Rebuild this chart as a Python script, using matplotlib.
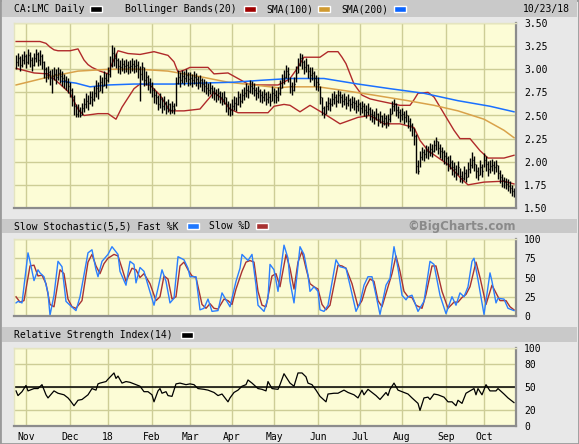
import numpy as np
import pandas as pd
import matplotlib
matplotlib.use("Agg")
import matplotlib.pyplot as plt
from matplotlib.patches import Rectangle

plt.rcParams['font.family'] = ['DejaVu Sans Mono']
plt.rcParams['font.size'] = 7

# TSX trading days shown on the chart
holidays = ['2017-12-25', '2017-12-26', '2018-01-01', '2018-02-19', '2018-03-30',
            '2018-05-21', '2018-07-02', '2018-08-06', '2018-09-03', '2018-10-08']
dates = pd.bdate_range('2017-10-25', '2018-10-23', freq='C', holidays=holidays)

# daily bars (Oct .. Oct), one row per month
closes = (
    [3.08, 3.12, 3.05, 3.10, 3.14] +
    [3.08, 3.15, 3.10, 3.05, 3.12, 3.16, 3.10, 3.14, 3.08, 3.00, 2.94, 2.97, 2.90, 2.93, 2.95, 2.92, 2.96, 2.93, 2.90, 2.88, 2.86, 2.82] +
    [2.78, 2.70, 2.60, 2.52, 2.55, 2.50, 2.58, 2.62, 2.66, 2.63, 2.70, 2.68, 2.74, 2.80, 2.76, 2.86, 2.82, 2.90, 2.88] +
    [2.95, 3.05, 3.18, 3.12, 3.10, 3.04, 3.02, 3.06, 3.03, 3.05, 3.02, 3.04, 3.06, 3.03, 3.05, 3.00, 2.95, 3.02, 2.88, 2.92, 2.86, 2.82] +
    [2.78, 2.72, 2.70, 2.62, 2.68, 2.60, 2.64, 2.58, 2.62, 2.56, 2.60, 2.57, 2.85, 2.92, 2.88, 2.93, 2.90, 2.94, 2.89] +
    [2.90, 2.88, 2.92, 2.89, 2.86, 2.88, 2.84, 2.82, 2.80, 2.78, 2.80, 2.76, 2.74, 2.72, 2.74, 2.70, 2.68, 2.70, 2.62, 2.58, 2.56] +
    [2.60, 2.64, 2.62, 2.70, 2.66, 2.72, 2.74, 2.78, 2.76, 2.82, 2.80, 2.78, 2.74, 2.76, 2.72, 2.70, 2.73, 2.68, 2.70, 2.66, 2.74] +
    [2.72, 2.70, 2.74, 2.80, 2.88, 2.92, 2.98, 2.95, 2.82, 2.78, 2.84, 2.96, 3.05, 3.12, 3.08, 3.02, 3.05, 2.98, 2.94, 2.96, 2.90, 2.86] +
    [2.84, 2.70, 2.58, 2.52, 2.60, 2.64, 2.62, 2.68, 2.70, 2.66, 2.72, 2.70, 2.66, 2.68, 2.64, 2.67, 2.62, 2.65, 2.63, 2.60, 2.62] +
    [2.58, 2.60, 2.56, 2.54, 2.57, 2.52, 2.50, 2.48, 2.52, 2.46, 2.49, 2.44, 2.47, 2.43, 2.46, 2.52, 2.60, 2.62, 2.56, 2.54, 2.50] +
    [2.52, 2.48, 2.50, 2.44, 2.40, 2.36, 2.28, 1.95, 1.90, 2.05, 2.10, 2.08, 2.12, 2.10, 2.14, 2.12, 2.18, 2.22, 2.15, 2.12, 2.10, 2.06] +
    [2.04, 1.98, 2.00, 1.94, 1.92, 1.88, 1.94, 1.85, 1.82, 1.88, 1.84, 1.92, 1.96, 2.02, 1.98, 1.90, 1.86, 1.94, 1.90] +
    [2.02, 1.98, 1.92, 1.95, 1.97, 1.94, 1.96, 1.88, 1.84, 1.80, 1.78, 1.76, 1.74, 1.72, 1.68, 1.66]
)
highs = (
    [3.15, 3.18, 3.14, 3.17, 3.20] +
    [3.16, 3.22, 3.19, 3.13, 3.18, 3.22, 3.19, 3.21, 3.16, 3.09, 3.02, 3.03, 2.99, 3.00, 3.02, 3.00, 3.02, 3.00, 2.98, 2.95, 2.93, 2.90] +
    [2.86, 2.80, 2.72, 2.62, 2.62, 2.59, 2.64, 2.69, 2.74, 2.72, 2.76, 2.76, 2.82, 2.88, 2.86, 2.94, 2.92, 2.98, 2.96] +
    [3.02, 3.14, 3.26, 3.24, 3.18, 3.12, 3.10, 3.12, 3.10, 3.11, 3.09, 3.10, 3.12, 3.10, 3.11, 3.09, 3.04, 3.08, 3.02, 2.98, 2.94, 2.90] +
    [2.86, 2.80, 2.77, 2.72, 2.74, 2.70, 2.71, 2.66, 2.68, 2.64, 2.66, 2.64, 2.92, 2.99, 2.97, 2.99, 2.98, 3.00, 2.97] +
    [2.97, 2.95, 2.98, 2.96, 2.93, 2.94, 2.91, 2.89, 2.87, 2.85, 2.86, 2.83, 2.81, 2.79, 2.80, 2.77, 2.75, 2.76, 2.70, 2.66, 2.64] +
    [2.68, 2.71, 2.70, 2.77, 2.74, 2.79, 2.81, 2.85, 2.83, 2.88, 2.87, 2.85, 2.81, 2.82, 2.79, 2.77, 2.79, 2.75, 2.77, 2.74, 2.82] +
    [2.80, 2.78, 2.81, 2.88, 2.95, 2.99, 3.05, 3.02, 2.92, 2.86, 2.92, 3.04, 3.12, 3.18, 3.16, 3.10, 3.12, 3.06, 3.02, 3.02, 2.98, 2.94] +
    [2.92, 2.82, 2.70, 2.60, 2.66, 2.70, 2.69, 2.74, 2.76, 2.73, 2.78, 2.77, 2.73, 2.74, 2.71, 2.73, 2.69, 2.71, 2.70, 2.67, 2.68] +
    [2.65, 2.66, 2.63, 2.61, 2.63, 2.59, 2.57, 2.55, 2.58, 2.53, 2.55, 2.51, 2.53, 2.50, 2.52, 2.58, 2.66, 2.68, 2.64, 2.60, 2.57] +
    [2.58, 2.55, 2.56, 2.51, 2.47, 2.42, 2.36, 2.30, 2.02, 2.12, 2.16, 2.14, 2.18, 2.17, 2.20, 2.19, 2.24, 2.27, 2.22, 2.19, 2.16, 2.13] +
    [2.11, 2.06, 2.07, 2.02, 2.00, 1.96, 2.01, 1.93, 1.90, 1.95, 1.92, 2.00, 2.04, 2.10, 2.06, 1.98, 1.94, 2.02, 1.98] +
    [2.09, 2.06, 2.01, 2.02, 2.03, 2.01, 2.02, 1.96, 1.91, 1.87, 1.84, 1.82, 1.81, 1.79, 1.75, 1.72]
)
lows = (
    [3.00, 3.03, 2.98, 3.02, 3.06] +
    [3.01, 3.06, 3.02, 2.98, 3.03, 3.08, 3.03, 3.05, 3.00, 2.91, 2.86, 2.89, 2.83, 2.74, 2.88, 2.84, 2.88, 2.85, 2.82, 2.80, 2.78, 2.74] +
    [2.70, 2.60, 2.50, 2.48, 2.48, 2.48, 2.50, 2.54, 2.58, 2.56, 2.62, 2.60, 2.66, 2.70, 2.68, 2.76, 2.74, 2.82, 2.80] +
    [2.86, 2.92, 3.02, 3.03, 3.01, 2.96, 2.95, 2.98, 2.96, 2.97, 2.95, 2.96, 2.98, 2.96, 2.97, 2.90, 2.66, 2.88, 2.82, 2.83, 2.78, 2.74] +
    [2.70, 2.64, 2.62, 2.56, 2.58, 2.53, 2.56, 2.52, 2.54, 2.52, 2.53, 2.52, 2.60, 2.84, 2.81, 2.85, 2.83, 2.86, 2.82] +
    [2.83, 2.81, 2.84, 2.82, 2.79, 2.81, 2.77, 2.75, 2.73, 2.71, 2.73, 2.69, 2.67, 2.65, 2.67, 2.63, 2.61, 2.62, 2.54, 2.50, 2.49] +
    [2.51, 2.56, 2.55, 2.61, 2.59, 2.64, 2.67, 2.70, 2.69, 2.74, 2.73, 2.71, 2.67, 2.69, 2.65, 2.63, 2.66, 2.61, 2.63, 2.60, 2.66] +
    [2.64, 2.63, 2.66, 2.72, 2.80, 2.84, 2.90, 2.86, 2.74, 2.72, 2.76, 2.86, 2.96, 3.03, 3.00, 2.95, 2.97, 2.90, 2.86, 2.88, 2.82, 2.78] +
    [2.76, 2.62, 2.50, 2.47, 2.52, 2.56, 2.55, 2.60, 2.62, 2.59, 2.64, 2.63, 2.59, 2.61, 2.57, 2.60, 2.55, 2.58, 2.56, 2.53, 2.55] +
    [2.51, 2.53, 2.49, 2.47, 2.50, 2.45, 2.43, 2.41, 2.45, 2.39, 2.42, 2.38, 2.40, 2.37, 2.39, 2.43, 2.52, 2.55, 2.49, 2.47, 2.43] +
    [2.45, 2.41, 2.43, 2.37, 2.33, 2.28, 2.18, 1.88, 1.87, 1.94, 2.02, 2.01, 2.04, 2.03, 2.06, 2.05, 2.10, 2.13, 2.08, 2.04, 2.02, 1.98] +
    [1.96, 1.90, 1.92, 1.86, 1.84, 1.80, 1.86, 1.78, 1.77, 1.80, 1.78, 1.84, 1.88, 1.93, 1.90, 1.82, 1.80, 1.86, 1.83] +
    [1.94, 1.90, 1.85, 1.88, 1.90, 1.87, 1.89, 1.81, 1.77, 1.73, 1.72, 1.70, 1.68, 1.66, 1.63, 1.62]
)

# indicator lines: (trading day number, value)
bb_upper = [(0, 3.30), (12, 3.30), (15, 3.28), (17, 3.24), (19, 3.21), (21, 3.20), (27, 3.20), (31, 3.22),
            (32, 3.18), (34, 3.10), (36, 3.05), (38, 3.02), (42, 2.98), (46, 2.95), (48, 3.06), (51, 3.20),
            (56, 3.17), (62, 3.16), (69, 3.19), (76, 3.15), (79, 3.08), (81, 2.97), (84, 2.99), (87, 3.02),
            (96, 3.02), (99, 2.95), (106, 2.96), (111, 2.90), (116, 2.84), (122, 2.83), (131, 2.83),
            (134, 2.86), (137, 2.90), (140, 2.99), (144, 3.13), (152, 3.13), (156, 3.19), (161, 3.19),
            (163, 3.13), (165, 3.06), (169, 2.84), (173, 2.72), (177, 2.68), (181, 2.66), (192, 2.61),
            (197, 2.61), (199, 2.67), (201, 2.74), (206, 2.75), (209, 2.70), (214, 2.52), (219, 2.34),
            (222, 2.25), (227, 2.25), (232, 2.12), (236, 2.04), (244, 2.04), (249, 2.07)]
bb_lower = [(0, 3.01), (9, 2.96), (16, 2.95), (22, 2.84), (27, 2.74), (31, 2.57), (34, 2.50), (41, 2.52),
            (46, 2.52), (50, 2.46), (53, 2.59), (59, 2.79), (62, 2.84), (67, 2.83), (72, 2.72), (77, 2.55),
            (84, 2.55), (92, 2.57), (99, 2.75), (102, 2.70), (107, 2.57), (111, 2.53), (126, 2.53),
            (129, 2.60), (134, 2.62), (137, 2.61), (142, 2.54), (147, 2.61), (154, 2.52), (162, 2.41),
            (171, 2.48), (177, 2.50), (184, 2.41), (192, 2.41), (199, 2.37), (202, 2.23), (206, 2.12),
            (216, 1.97), (222, 1.83), (226, 1.75), (234, 1.78), (244, 1.79), (249, 1.76)]
sma100 = [(0, 2.83), (17, 2.92), (31, 2.98), (47, 3.00), (62, 3.00), (76, 2.98), (92, 2.92), (106, 2.86),
          (119, 2.83), (131, 2.80), (137, 2.81), (151, 2.81), (164, 2.77), (179, 2.72), (196, 2.66),
          (209, 2.61), (221, 2.55), (234, 2.46), (244, 2.34), (249, 2.26)]
sma200 = [(23, 2.87), (30, 2.85), (37, 2.81), (46, 2.83), (59, 2.84), (79, 2.84), (92, 2.85), (109, 2.86),
          (122, 2.88), (137, 2.90), (154, 2.90), (171, 2.84), (187, 2.79), (204, 2.74), (221, 2.66),
          (237, 2.60), (249, 2.54)]

stoch_k = [(0, 17), (1, 19), (3, 17), (6, 82), (7, 71), (9, 46), (11, 60), (12, 56), (14, 51), (16, 30),
           (17, 1), (19, 27), (21, 71), (23, 64), (25, 19), (27, 14), (30, 7), (32, 25), (36, 82), (38, 86),
           (40, 60), (41, 51), (43, 71), (46, 80), (48, 90), (51, 80), (52, 58), (55, 40), (57, 71), (59, 67),
           (60, 43), (62, 63), (64, 58), (66, 40), (69, 14), (71, 36), (73, 60), (75, 45), (77, 17), (79, 23),
           (81, 77), (84, 73), (86, 62), (87, 51), (90, 51), (92, 8), (94, 10), (96, 22), (98, 6), (101, 7),
           (103, 30), (105, 21), (107, 12), (110, 45), (112, 62), (113, 80), (116, 72), (118, 80), (120, 40),
           (121, 14), (124, 6), (126, 23), (127, 67), (129, 60), (131, 32), (134, 92), (136, 75), (137, 45),
           (139, 17), (142, 90), (144, 80), (146, 53), (147, 32), (149, 38), (151, 32), (152, 8), (154, 6),
           (156, 14), (160, 73), (162, 64), (165, 62), (167, 40), (170, 6), (172, 17), (174, 40), (176, 51),
           (178, 51), (180, 27), (182, 2), (185, 40), (187, 49), (189, 90), (191, 62), (193, 27), (195, 21),
           (196, 25), (198, 27), (201, 6), (204, 19), (207, 71), (209, 67), (212, 27), (215, 3), (218, 25),
           (220, 14), (222, 30), (224, 25), (226, 38), (228, 71), (229, 75), (231, 47), (234, 2), (237, 56),
           (238, 45), (240, 17), (241, 23), (244, 22), (246, 10), (249, 7)]
stoch_d = [(0, 25), (2, 18), (4, 20), (7, 65), (9, 66), (11, 52), (13, 53), (15, 42), (17, 15), (19, 12),
           (22, 60), (24, 55), (26, 22), (28, 12), (30, 10), (33, 20), (36, 70), (38, 80), (40, 65), (42, 55),
           (44, 68), (46, 75), (49, 80), (51, 78), (53, 62), (55, 45), (58, 62), (60, 60), (62, 50), (64, 55),
           (67, 42), (70, 20), (72, 25), (74, 52), (76, 48), (78, 22), (80, 25), (82, 65), (84, 70), (86, 60),
           (88, 52), (90, 50), (93, 15), (95, 10), (97, 16), (99, 10), (101, 9), (104, 22), (106, 20),
           (108, 15), (110, 35), (113, 58), (115, 70), (117, 72), (119, 70), (121, 32), (123, 14), (125, 12),
           (128, 52), (130, 55), (132, 38), (135, 80), (137, 62), (139, 35), (141, 70), (143, 84), (145, 62),
           (147, 42), (149, 38), (151, 35), (153, 15), (155, 8), (157, 14), (161, 66), (163, 65), (165, 62),
           (168, 42), (171, 12), (173, 20), (175, 38), (177, 48), (179, 45), (181, 20), (183, 12), (186, 38),
           (188, 55), (190, 78), (192, 58), (194, 32), (196, 25), (198, 24), (200, 14), (203, 10), (205, 28),
           (208, 65), (210, 65), (213, 32), (216, 10), (219, 18), (221, 18), (223, 24), (225, 28), (227, 38),
           (230, 70), (232, 50), (235, 15), (238, 40), (240, 30), (242, 20), (245, 20), (247, 12), (249, 8)]

rsi = [(0, 45), (1, 39), (3, 44), (5, 52), (6, 45), (9, 48), (11, 48), (13, 53), (15, 40), (16, 36), (19, 45),
       (21, 42), (24, 40), (26, 36), (27, 33), (29, 26), (31, 33), (33, 34), (36, 40), (38, 48), (40, 46),
       (41, 54), (42, 55), (45, 57), (46, 60), (49, 68), (50, 61), (51, 64), (53, 55), (55, 57), (57, 56),
       (60, 53), (62, 51), (64, 44), (66, 44), (68, 40), (69, 31), (71, 45), (72, 48), (73, 42), (75, 44),
       (76, 39), (78, 38), (80, 54), (82, 55), (85, 53), (87, 54), (89, 53), (91, 48), (94, 47), (96, 46),
       (99, 43), (101, 39), (103, 41), (106, 31), (107, 36), (109, 43), (111, 46), (113, 51), (115, 53),
       (116, 59), (118, 55), (121, 48), (123, 47), (125, 45), (126, 57), (128, 48), (131, 47), (132, 53),
       (134, 67), (136, 59), (137, 55), (139, 51), (141, 68), (143, 68), (145, 63), (146, 55), (148, 53),
       (150, 46), (152, 38), (155, 31), (156, 41), (159, 42), (161, 42), (164, 46), (166, 43), (169, 40),
       (171, 36), (173, 46), (174, 40), (176, 47), (178, 43), (180, 39), (182, 34), (185, 43), (186, 39),
       (187, 47), (189, 55), (191, 46), (193, 44), (196, 41), (198, 36), (201, 29), (202, 20), (204, 36),
       (206, 37), (207, 34), (209, 41), (211, 40), (214, 37), (216, 31), (218, 31), (220, 26), (221, 33),
       (223, 29), (225, 42), (227, 45), (229, 48), (230, 40), (231, 48), (233, 40), (235, 53), (237, 45),
       (240, 45), (241, 48), (244, 41), (246, 36), (249, 30)]

price_ticks = [1.50, 1.75, 2.00, 2.25, 2.50, 2.75, 3.00, 3.25, 3.50]
stoch_ticks = [0, 25, 50, 75, 100]
rsi_ticks = [0, 20, 50, 80, 100]

W, H = 579, 444
BG = '#e8e8e8'
BAND = '#c9c9c9'
PANEL = '#fcfcd6'
GRID = '#cdcd96'


def rect(x0, y0, x1, y1):
    # pixel box (from top-left) -> figure fraction
    return [x0 / W, 1 - y1 / H, (x1 - x0) / W, (y1 - y0) / H]


fig = plt.figure(figsize=(W / 100, H / 100), dpi=100, facecolor=BG)
fig.add_artist(Rectangle((0, 0), 1, 1, transform=fig.transFigure, fill=False,
                         edgecolor='#9a9a9a', linewidth=2))


def band(y0, y1):
    fig.add_artist(Rectangle((2 / W, 1 - y1 / H), (W - 4) / W, (y1 - y0) / H,
                             transform=fig.transFigure, facecolor=BAND, edgecolor='none'))


def swatch(x, y, color):
    fig.add_artist(Rectangle((x / W, 1 - (y + 3) / H), 12 / W, 6 / H, transform=fig.transFigure,
                             facecolor=color, edgecolor='white', linewidth=1))


def label(x, y, s, **kw):
    fig.text(x / W, 1 - y / H, s, va='center', **kw)


band(0, 17)
label(14, 9, 'CA:LMC Daily')
swatch(90, 9, 'black')
label(125, 9, 'Bollinger Bands(20)')
swatch(244, 9, '#a00000')
label(266, 9, 'SMA(100)')
swatch(318, 9, '#d09a30')
label(341, 9, 'SMA(200)')
swatch(394, 9, '#0a64ff')
label(523, 9, '10/23/18')

band(219, 233)
label(14, 226, 'Slow Stochastic(5,5) Fast %K')
swatch(187, 226, '#1f78ff')
label(209, 226, 'Slow %D')
swatch(256, 226, '#a83232')
label(516, 226, '\u00a9BigCharts.com', ha='right', family='DejaVu Sans',
      fontweight='bold', fontsize=8.5, color='#8a8a8a')

band(327, 342)
label(14, 335, 'Relative Strength Index(14)')
swatch(181, 335, 'black')

x = np.arange(len(dates))
month_pos = [i for i in range(1, len(dates)) if dates[i].month != dates[i - 1].month]
month_lab = ['18' if dates[i].month == 1 else dates[i].strftime('%b') for i in month_pos]


def style(ax, ticks, ylim):
    ax.set_facecolor(PANEL)
    ax.set_xlim(-1, len(dates))
    ax.set_ylim(*ylim)
    ax.set_xticks(month_pos)
    ax.set_xticklabels([])
    ax.set_yticks(ticks)
    ax.yaxis.tick_right()
    ax.tick_params(length=0, pad=6, labelsize=7)
    ax.grid(True, color=GRID, linewidth=1)
    ax.set_axisbelow(True)
    for side in ['top', 'left']:
        ax.spines[side].set_color('#e4e4c0')
        ax.spines[side].set_linewidth(1)
    for side in ['bottom', 'right']:
        ax.spines[side].set_color('#8c8c8c')
        ax.spines[side].set_linewidth(1.6)


def line(ax, pts, **kw):
    xs, ys = zip(*pts)
    ax.plot(xs, ys, **kw)


# price panel
ax1 = fig.add_axes(rect(14, 23, 516, 208))
style(ax1, price_ticks, (1.5, 3.5))
ax1.set_yticklabels(['%.2f' % t for t in price_ticks])
line(ax1, bb_upper, color='#b02a2a', lw=1)
line(ax1, bb_lower, color='#b02a2a', lw=1)
line(ax1, sma100, color='#d9a24a', lw=1.1)
line(ax1, sma200, color='#1a70ff', lw=1.1)
ax1.vlines(x, lows, highs, color='black', lw=1.0)
ax1.hlines(closes, x, x + 0.7, color='black', lw=1.0)

# slow stochastic
ax2 = fig.add_axes(rect(14, 239, 516, 316))
style(ax2, stoch_ticks, (0, 100))
line(ax2, stoch_d, color='#a83232', lw=1)
line(ax2, stoch_k, color='#2a7fff', lw=1)

# RSI
ax3 = fig.add_axes(rect(14, 348, 516, 426))
style(ax3, rsi_ticks, (0, 100))
ax3.axhline(50, color='black', lw=1.1)
line(ax3, rsi, color='black', lw=0.9)
ax3.set_xticklabels(month_lab)
ax3.tick_params(axis='x', pad=4)

fig.savefig('out.png', dpi=100, facecolor=BG)
